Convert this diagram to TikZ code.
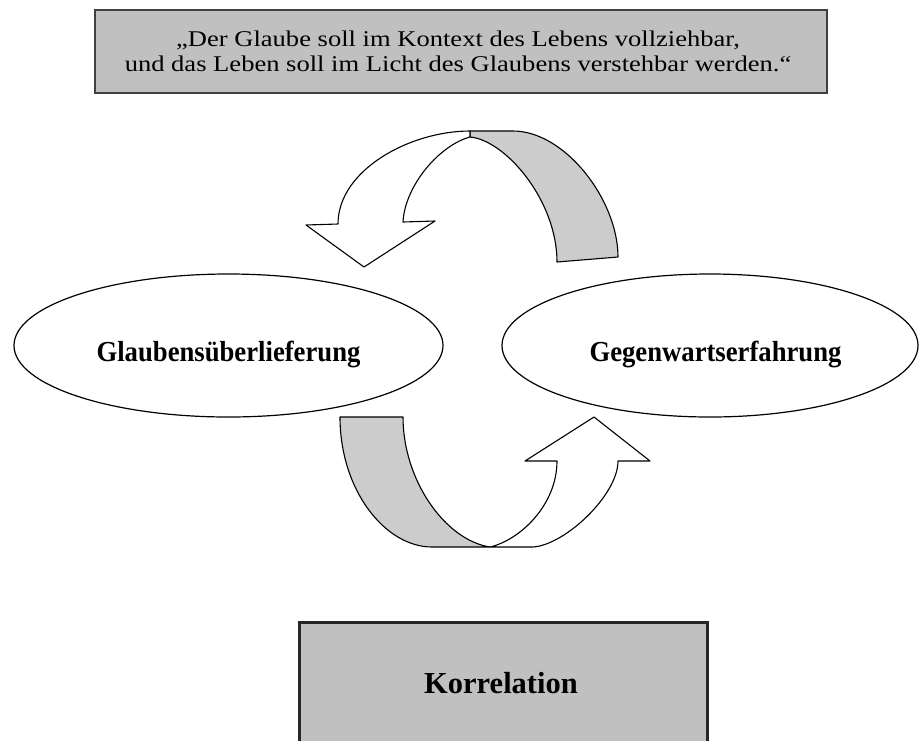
\documentclass[tikz,border=0pt]{standalone}
\usepackage{fontspec}
\usetikzlibrary{shapes.geometric}
\setmainfont{Liberation Serif}
% wide face for the quotation, slightly narrowed bold face for the topics
\newfontfamily\quotefont[FakeStretch=1.18]{Liberation Serif}
\newfontfamily\topicfont[FakeStretch=0.92]{Liberation Serif}

\definecolor{boxgray}{HTML}{C0C0C0}
\definecolor{bandgray}{HTML}{CCCCCC}
\definecolor{rimgray}{HTML}{404040}

\tikzset{
  quoteframe/.style={draw=rimgray, line width=2.5pt, fill=boxgray,
    minimum width=732pt, minimum height=83pt, inner sep=0pt},
  quotetext/.style={inner sep=0pt, align=center,
    font=\quotefont\fontsize{22.5}{25}\selectfont},
  topic/.style={ellipse, draw, line width=1.2pt, fill=white, inner sep=0pt},
  topiclabel/.style={inner sep=0pt,
    font=\topicfont\bfseries\fontsize{29}{34}\selectfont},
  korrbox/.style={draw=black!85, line width=3pt, fill=boxgray,
    minimum width=408pt, minimum height=150pt, inner sep=0pt},
  korrlabel/.style={inner sep=0pt, font=\bfseries\fontsize{30.5}{36}\selectfont},
  arrowfront/.style={draw, line width=1.1pt, fill=white, line join=round},
  arrowback/.style={draw, line width=1.1pt, fill=bandgray, line join=round}
}

\begin{document}
\begin{tikzpicture}[x=1pt, y=-1pt]
  \clip (0,0) rectangle (920,740);
  \fill[white] (0,0) rectangle (920,740);

  % quotation
  \node[quoteframe] (quotebox) at (461,51.5) {};
  \node[quotetext] (quote) at (458,51.5)
    {„Der Glaube soll im Kontext des Lebens vollziehbar,\\
     und das Leben soll im Licht des Glaubens verstehbar werden.“};

  % upper curved arrow: back face, then front face with head
  \draw[arrowback] (470,131) -- (513,131)
    .. controls (565,131) and (618,200) .. (618,257) -- (557,262)
    .. controls (557,200) and (505,140) .. (470,137) -- cycle;
  \draw[arrowfront] (470,131)
    .. controls (410,131) and (338,170) .. (338,224)
    -- (306,225) -- (364,267) -- (435,221) -- (403,222)
    .. controls (405,185) and (440,145) .. (470,137) -- cycle;

  % lower curved arrow: back face, then front face with head
  \draw[arrowback] (340,417) -- (403,417)
    .. controls (403,480) and (445,540) .. (490,547) -- (432,547)
    .. controls (385,547) and (340,490) .. (340,417) -- cycle;
  \draw[arrowfront] (490,547) -- (533,547)
    .. controls (565,545) and (618,495) .. (618,461)
    -- (650,461) -- (594,417) -- (525,461) -- (557,461)
    .. controls (557,505) and (520,540) .. (490,547) -- cycle;

  % the two poles
  \node[topic, minimum width=429pt, minimum height=143pt] (tradition) at (228.5,345.5) {};
  \node[topic, minimum width=416pt, minimum height=143pt] (present) at (710,345.5) {};
  \node[topiclabel] (traditionlabel) at (228.5,354.5) {Glaubensüberlieferung};
  \node[topiclabel] (presentlabel) at (715.5,354.5) {Gegenwartserfahrung};

  % correlation box
  \node[korrbox] (korrbox) at (503,697) {};
  \node[korrlabel] (korr) at (501,683) {Korrelation};
\end{tikzpicture}
\end{document}
